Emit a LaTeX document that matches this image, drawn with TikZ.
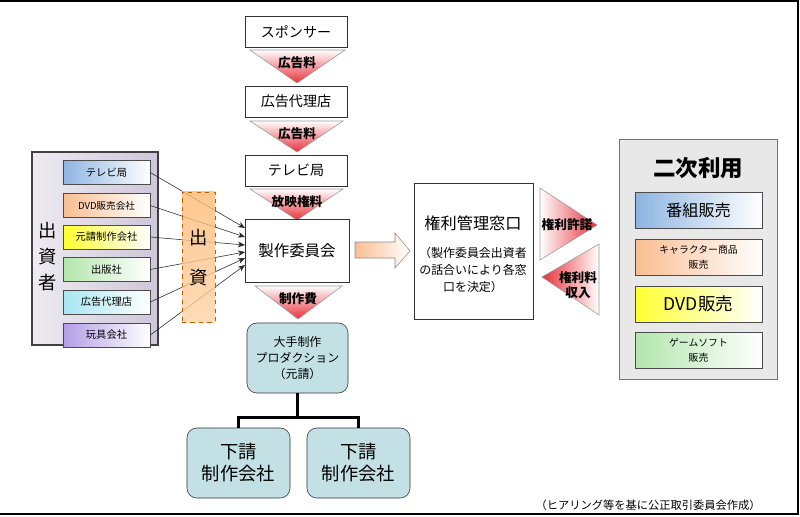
\documentclass[tikz,border=0pt]{standalone}
\usepackage{fontspec}
\setmainfont{Noto Sans CJK JP}
\usetikzlibrary{arrows.meta}

\definecolor{arrowred}{HTML}{E8303A}
\definecolor{blue0}{HTML}{8DB4E2}
\definecolor{orange0}{HTML}{F9BE92}
\definecolor{yellow0}{HTML}{FFFF30}
\definecolor{green0}{HTML}{B2E6AC}
\definecolor{cyan0}{HTML}{A6E6F2}
\definecolor{purple0}{HTML}{B39DE6}
\definecolor{teal0}{HTML}{C3E1E5}
\definecolor{lav1}{HTML}{EEEBF2}
\definecolor{lav2}{HTML}{CEC6D9}

\tikzset{
  wbox/.style={draw=black!80, fill=white, inner sep=0pt, minimum width=2.55cm, minimum height=0.775cm, font=\fontsize{10}{12}\selectfont},
  tri/.style={draw=black!40, thin},
  trilbl/.style={font=\fontsize{9}{11}\selectfont\bfseries, align=center},
  invbox/.style={draw=black!70, inner sep=0pt, minimum width=2.175cm, minimum height=0.6cm, right color=white, font=\fontsize{7.3}{8}\selectfont},
  usebox/.style={draw=black!70, inner sep=0pt, minimum width=3.175cm, minimum height=0.9cm, right color=white, align=center},
  prodbox/.style={draw=black!80, fill=teal0, rounded corners=7pt, inner sep=0pt, align=center},
  invarrow/.style={-{Stealth[length=5pt,width=4pt]}, black!85, thin},
  tree/.style={line width=2.2pt},
}

\begin{document}
\begin{tikzpicture}[x=0.025cm, y=-0.025cm]
\useasboundingbox (0,0) rectangle (800,516);
\draw[line width=1.5pt] (0,1) -- (798,1) -- (798,514) -- (0,514);

% chain of money at the top
\node[wbox] (spon) at (296,31.5) {スポンサー};
\path[tri, top color=white, bottom color=arrowred] (250,50) -- (345,50) -- (297,83) -- cycle;\node[trilbl] (fee1) at (297,63) {広告料};
\node[wbox] (agency) at (296,101.5) {広告代理店};
\path[tri, top color=white, bottom color=arrowred] (250,121) -- (343,121) -- (297,152) -- cycle;\node[trilbl] (fee2) at (297,134) {広告料};
\node[wbox] (tv) at (296,170.5) {テレビ局};
\path[tri, top color=white, bottom color=arrowred] (250,189) -- (343,189) -- (297,220) -- cycle;\node[trilbl] (fee3) at (297,202) {放映権料};
\node[wbox, minimum width=2.6cm, minimum height=1.575cm, font=\fontsize{11}{13}\selectfont] (comm) at (297,250.5) {製作委員会};
\path[tri, top color=white, bottom color=arrowred] (255,286) -- (342,286) -- (298,319) -- cycle;\node[trilbl] (fee4) at (298,299) {制作費};

% investors
\node[draw=black!75, line width=1pt, left color=lav1, right color=lav2, minimum width=3.15cm, minimum height=4.825cm] (invest) at (95,248.5) {};
\node[font=\fontsize{13}{18.5}\selectfont, align=center] (investlbl) at (48,257) {出\\資\\者};
\node[invbox, left color=blue0] (iTV) at (106.5,172.5) {テレビ局};
\node[invbox, left color=orange0, font=\fontsize{6.8}{8}\selectfont] (iDVD) at (106.5,205.5) {DVD販売会社};
\node[invbox, left color=yellow0] (iPrime) at (106.5,237) {元請制作会社};
\node[invbox, left color=green0] (iPub) at (106.5,269.5) {出版社};
\node[invbox, left color=cyan0] (iAd) at (106.5,302) {広告代理店};
\node[invbox, left color=purple0] (iToy) at (106.5,335) {玩具会社};

\coordinate (in1) at (245,228);\coordinate (in2) at (245,237);\coordinate (in3) at (245,245);
\coordinate (in4) at (245,252);\coordinate (in5) at (245,258);\coordinate (in6) at (245,265);
\draw[invarrow] (iTV.east) -- (in1);\draw[invarrow] (iDVD.east) -- (in2);\draw[invarrow] (iPrime.east) -- (in3);
\draw[invarrow] (iPub.east) -- (in4);\draw[invarrow] (iAd.east) -- (in5);\draw[invarrow] (iToy.east) -- (in6);

\node[draw=orange!75!black, dashed, top color=orange!55, bottom color=orange!35, fill opacity=0.8, minimum width=0.825cm, minimum height=3.25cm] (fund) at (198.5,257) {};
\node[font=\fontsize{13}{15}\selectfont] (fund1) at (198.5,238) {出};
\node[font=\fontsize{13}{15}\selectfont] (fund2) at (198.5,278) {資};

% rights window
\path[draw=black!45, left color=orange0, right color=white] (355,242) -- (395,242) -- (395,233) -- (410,251) -- (395,268) -- (395,258) -- (355,258) -- cycle;
\node[wbox, minimum width=2.975cm, minimum height=3.4cm] (win) at (473.5,251) {};
\node[font=\fontsize{11.5}{13}\selectfont] (wintitle) at (473,223) {権利管理窓口};
\node[font=\fontsize{8.5}{12.1}\selectfont, align=center] (winnote) at (473,270) {（製作委員会出資者\\の話合いにより各窓\\口を決定）};

\path[tri, left color=white, right color=arrowred] (540,188) -- (597,225) -- (540,260) -- cycle;\node[trilbl] (lic) at (567,225) {権利許諾};
\path[tri, left color=arrowred, right color=white] (599,244) -- (542,277) -- (599,315) -- cycle;\node[trilbl] (roy) at (578,285) {権利料\\収入};

% secondary use
\node[draw=black!55, fill=black!9, minimum width=3.95cm, minimum height=6cm] (second) at (698,259) {};
\node[font=\fontsize{16}{18}\selectfont\bfseries] (sectitle) at (698,168) {二次利用};
\node[usebox, left color=blue0, font=\fontsize{11.5}{13}\selectfont] (uProg) at (698.5,210.5) {番組販売};
\node[usebox, left color=orange0, font=\fontsize{7}{10.7}\selectfont] (uChar) at (698.5,257.5) {キャラクター商品\\販売};
\node[usebox, left color=yellow0, font=\fontsize{12.5}{14}\selectfont] (uDVD) at (698.5,304) {DVD販売};
\node[usebox, left color=green0, font=\fontsize{7}{10.7}\selectfont] (uGame) at (698.5,350.5) {ゲームソフト\\販売};

% production companies
\node[prodbox, minimum width=2.525cm, minimum height=1.75cm, font=\fontsize{8.5}{11.4}\selectfont] (prod) at (297.5,358) {大手制作\\プロダクション\\（元請）};
\node[prodbox, minimum width=2.575cm, minimum height=1.75cm, font=\fontsize{13}{15.6}\selectfont] (sub1) at (238.5,463) {下請\\制作会社};
\node[prodbox, minimum width=2.575cm, minimum height=1.75cm, font=\fontsize{13}{15.6}\selectfont] (sub2) at (358.5,463) {下請\\制作会社};
\coordinate (fork) at ([yshift=-17pt]prod.south);
\draw[tree] (prod.south) -- (fork);
\draw[tree] (sub1.north) |- (fork) -| (sub2.north);

\node[font=\fontsize{8}{9}\selectfont] (src) at (648,505) {（ヒアリング等を基に公正取引委員会作成）};
\end{tikzpicture}
\end{document}
